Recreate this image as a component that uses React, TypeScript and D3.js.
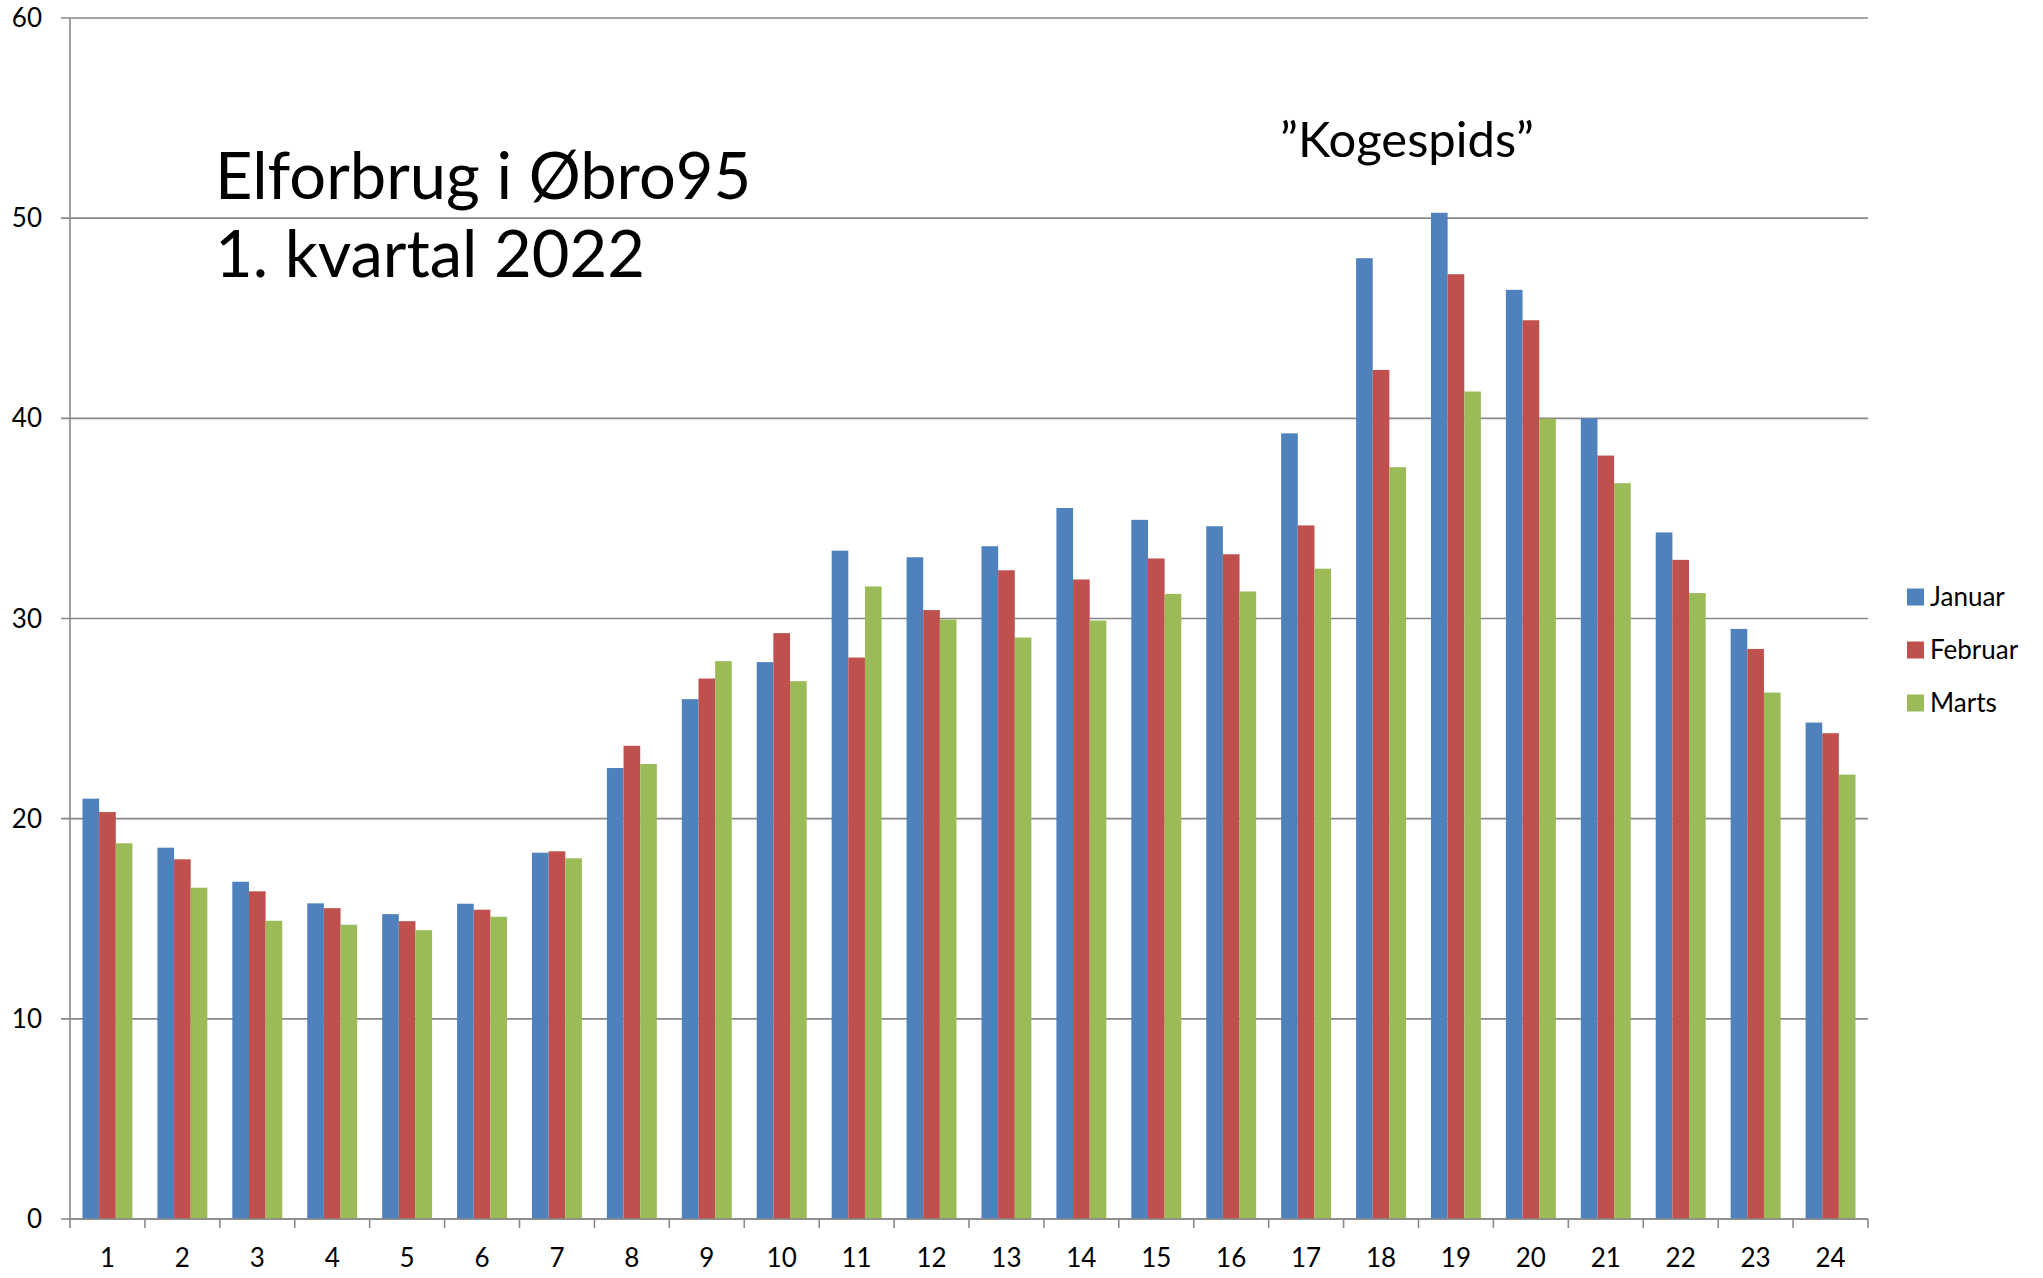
import React, {useEffect, useRef} from 'react';
import * as d3 from 'd3';

// hourly consumption, average per hour of day (kWh)
const hours = d3.range(1, 25).map(String);
const januar = [21.0, 18.55, 16.85, 15.77, 15.23, 15.75, 18.3, 22.53, 25.97, 27.82, 33.39, 33.06,
  33.61, 35.52, 34.93, 34.61, 39.25, 48.0, 50.27, 46.42, 40.0, 34.3, 29.48, 24.8];
const februar = [20.33, 17.97, 16.37, 15.53, 14.88, 15.45, 18.37, 23.64, 27.0, 29.27, 28.05, 30.42,
  32.41, 31.95, 33.0, 33.21, 34.65, 42.42, 47.2, 44.9, 38.14, 32.93, 28.48, 24.27];
const marts = [18.77, 16.55, 14.9, 14.7, 14.43, 15.1, 18.02, 22.73, 27.87, 26.87, 31.6, 29.95,
  29.05, 29.9, 31.23, 31.35, 32.49, 37.56, 41.34, 39.98, 36.76, 31.27, 26.3, 22.2];
const seriesNames = ['Januar', 'Februar', 'Marts'];
const seriesColors = ['#4F81BD', '#C0504D', '#9BBB59'];
const yTicks = [0, 10, 20, 30, 40, 50, 60];

const W = 2043;
const H = 1278;
const FONT = 'Lato, "Open Sans", sans-serif';

export default function App() {
  const svgRef = useRef<SVGSVGElement>(null);

  useEffect(() => {
    if (!svgRef.current) return;
    const svg = d3.select(svgRef.current);
    svg.selectAll('*').remove();

    const left = 70, top = 18, right = 1868, bottom = 1219;
    const axisColor = '#888';

    const x = d3.scaleBand().domain(hours).range([left, right]).paddingInner(1 / 3).paddingOuter(1 / 6);
    const xs = d3.scaleBand().domain(seriesNames).range([0, x.bandwidth()]);
    const y = d3.scaleLinear().domain([0, 60]).range([bottom, top]);

    svg.append('rect').attr('width', W).attr('height', H).attr('fill', 'white');

    // gridlines + y ticks
    svg.append('g')
      .selectAll('line')
      .data(yTicks)
      .join('line')
      .attr('x1', left - 9)
      .attr('x2', right)
      .attr('y1', (d) => y(d))
      .attr('y2', (d) => y(d))
      .attr('stroke', axisColor)
      .attr('stroke-width', 1.6);

    svg.append('g')
      .style('font', `26px ${FONT}`)
      .attr('text-anchor', 'end')
      .selectAll('text')
      .data(yTicks)
      .join('text')
      .attr('x', 42)
      .attr('y', (d) => y(d))
      .attr('dy', '0.35em')
      .text((d) => d);

    // bars
    const table = hours.map((h, i) => ({h, values: [januar[i], februar[i], marts[i]]}));
    svg.append('g')
      .selectAll('g')
      .data(table)
      .join('g')
      .attr('transform', (d) => `translate(${x(d.h)},0)`)
      .selectAll('rect')
      .data((d) => d.values.map((v, k) => ({v, k})))
      .join('rect')
      .attr('x', (d) => xs(seriesNames[d.k])!)
      .attr('width', xs.bandwidth())
      .attr('y', (d) => y(d.v))
      .attr('height', (d) => bottom - y(d.v))
      .attr('fill', (d) => seriesColors[d.k]);

    // axes lines
    svg.append('line')
      .attr('x1', left).attr('x2', left).attr('y1', top).attr('y2', bottom)
      .attr('stroke', axisColor).attr('stroke-width', 1.6);
    svg.append('line')
      .attr('x1', left).attr('x2', right).attr('y1', bottom).attr('y2', bottom)
      .attr('stroke', axisColor).attr('stroke-width', 1.6);

    const step = x.step();
    svg.append('g')
      .selectAll('line')
      .data(d3.range(hours.length + 1))
      .join('line')
      .attr('x1', (i) => left + i * step)
      .attr('x2', (i) => left + i * step)
      .attr('y1', bottom)
      .attr('y2', bottom + 9)
      .attr('stroke', axisColor)
      .attr('stroke-width', 1.6);

    svg.append('g')
      .style('font', `26px ${FONT}`)
      .attr('text-anchor', 'middle')
      .selectAll('text')
      .data(hours)
      .join('text')
      .attr('x', (d) => x(d)! + x.bandwidth() / 2)
      .attr('y', 1267)
      .text((d) => d);

    // title
    const title = svg.append('g').style('font', `65px ${FONT}`).attr('fill', '#000');
    title.append('text').attr('x', 215).attr('y', 199).text('Elforbrug i Øbro95');
    title.append('text').attr('x', 215).attr('y', 277).text('1. kvartal 2022');

    svg.append('text')
      .style('font', `49px ${FONT}`)
      .attr('x', 1280)
      .attr('y', 157)
      .text('\u201DKogespids\u201D');

    // legend
    const legend = svg.append('g')
      .selectAll('g')
      .data(seriesNames)
      .join('g')
      .attr('transform', (d, i) => `translate(1907,${597 + i * 53})`);
    legend.append('rect')
      .attr('y', -8.5)
      .attr('width', 17)
      .attr('height', 17)
      .attr('fill', (d, i) => seriesColors[i]);
    legend.append('text')
      .attr('x', 23)
      .attr('dy', '0.35em')
      .style('font', `26px ${FONT}`)
      .text((d) => d);
  }, []);

  return (
    <svg
      ref={svgRef}
      width={W}
      height={H}
      style={{position: 'absolute', left: 0, top: 0, display: 'block'}}
    />
  );
}
